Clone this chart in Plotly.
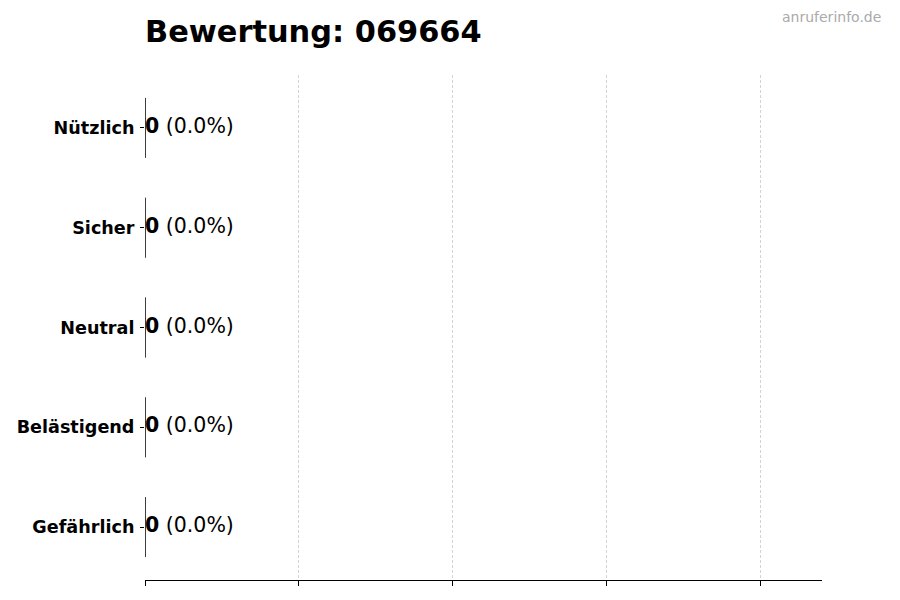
import plotly.graph_objects as go

categories = ["Gefährlich", "Belästigend", "Neutral", "Sicher", "Nützlich"]
counts = [0, 0, 0, 0, 0]
bar_colors = ["#d9534f", "#f0ad4e", "#999999", "#5bc0de", "#5cb85c"]
title_text = "Bewertung: 069664"
watermark = "anruferinfo.de"
x_ticks = [0, 1, 2, 3, 4]

total = sum(counts)
pcts = [(c / total * 100) if total else 0.0 for c in counts]
ypos = list(range(len(categories)))
FONT = "DejaVu Sans"

# page has an 8px body margin; compensate so the plot lands where the reference has it
OFF = 8
L, R, T, B = 145 - OFF, 900 - 822 + OFF, 75 - OFF, 20 + OFF
PW, PH = 900 - L - R, 600 - T - B

fig = go.Figure()

fig.add_trace(go.Bar(
    x=counts, y=ypos, orientation="h", width=0.6,
    marker=dict(color=bar_colors, line=dict(color="#222222", width=1)),
    hoverinfo="skip", showlegend=False,
))

# outline of (zero-width) bars
ox, oy = [], []
for c, y in zip(counts, ypos):
    ox += [c, c, None]
    oy += [y - 0.3, y + 0.3, None]
fig.add_trace(go.Scatter(
    x=ox, y=oy, mode="lines", line=dict(color="#222222", width=1),
    hoverinfo="skip", showlegend=False,
))

fig.add_trace(go.Scatter(
    x=counts, y=ypos, mode="text",
    text=[f"<b>{c}</b> ({p:.1f}%)" for c, p in zip(counts, pcts)],
    textposition="middle right",
    textfont=dict(family=FONT, size=20.5, color="black"),
    hoverinfo="skip", showlegend=False, cliponaxis=False,
))

fig.update_layout(
    width=900, height=600,
    margin=dict(l=L, r=R, t=T, b=B, autoexpand=False),
    plot_bgcolor="white", paper_bgcolor="white",
    font=dict(family=FONT, color="black"),
    title=dict(text=f"<b>{title_text}</b>", x=L / 900, xanchor="left",
               y=1 - (31 - OFF) / 600, yanchor="middle", yref="container",
               font=dict(family=FONT, size=30.4, color="black")),
    xaxis=dict(range=[0, 4.4], tickvals=x_ticks, showticklabels=False,
               ticks="outside", ticklen=5, tickcolor="black", tickwidth=1,
               showline=True, linecolor="black", linewidth=1.2,
               showgrid=True, gridcolor="#d3d3d3", griddash="3px,2px", gridwidth=0.8,
               zeroline=False, automargin=False),
    yaxis=dict(range=[-0.53, 4.53], tickvals=ypos,
               ticktext=[f"<b>{c}</b>" for c in categories],
               tickfont=dict(family=FONT, size=17.6, color="black"),
               ticks="outside", ticklen=4, tickcolor="black",
               ticklabelstandoff=2, automargin=False,
               showline=False, showgrid=False, zeroline=False),
    annotations=[dict(text=watermark, xref="paper", yref="paper",
                      x=(883 - 145) / PW, y=(580 - 17) / PH,
                      xanchor="right", yanchor="middle", showarrow=False,
                      font=dict(family=FONT, size=14, color="#aaaaaa"))],
)

fig.write_html("out.html")
